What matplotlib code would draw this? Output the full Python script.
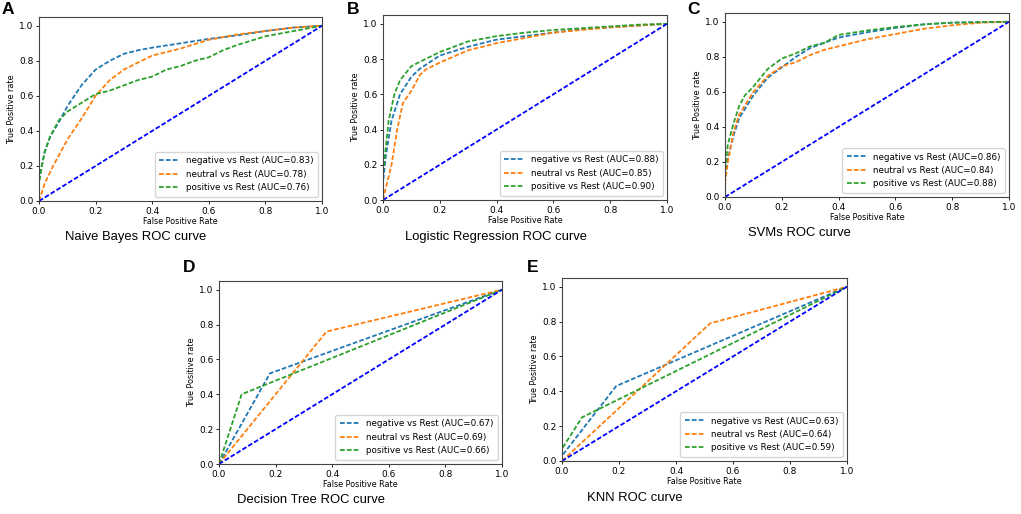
import numpy as np
import matplotlib.pyplot as plt

"""
ROC curves for five classifiers (values read off the reference figure)
"""
classes = ["negative", "neutral", "positive"]
colors = ["tab:blue", "tab:orange", "tab:green"]

### Naive Bayes
nb_auc = [0.83, 0.78, 0.76]
nb_fpr = [
    [0, 0, 0.01, 0.02, 0.04, 0.07, 0.10, 0.15, 0.20, 0.25, 0.30, 0.35, 0.40, 0.50, 0.60, 0.70, 0.80, 0.90, 1.0],
    [0, 0.02, 0.05, 0.10, 0.15, 0.20, 0.25, 0.30, 0.35, 0.40, 0.50, 0.60, 0.70, 0.80, 0.90, 1.0],
    [0, 0, 0.01, 0.02, 0.04, 0.07, 0.10, 0.15, 0.20, 0.25, 0.30, 0.35, 0.40, 0.45, 0.50, 0.55, 0.60, 0.65, 0.70, 0.80, 0.90, 1.0],
]
nb_tpr = [
    [0, 0.12, 0.20, 0.28, 0.37, 0.45, 0.54, 0.66, 0.75, 0.80, 0.84, 0.86, 0.875, 0.90, 0.925, 0.945, 0.97, 0.99, 1.0],
    [0, 0.10, 0.20, 0.35, 0.47, 0.60, 0.69, 0.75, 0.79, 0.83, 0.87, 0.92, 0.95, 0.97, 0.99, 1.0],
    [0, 0.10, 0.20, 0.28, 0.37, 0.46, 0.51, 0.56, 0.61, 0.63, 0.66, 0.69, 0.71, 0.75, 0.77, 0.80, 0.82, 0.86, 0.89, 0.94, 0.97, 1.0],
]

### Logistic Regression
lr_auc = [0.88, 0.85, 0.90]
lr_fpr = [
    [0, 0, 0.01, 0.03, 0.06, 0.10, 0.13, 0.20, 0.30, 0.40, 0.50, 0.60, 0.70, 0.80, 0.90, 1.0],
    [0, 0.01, 0.03, 0.05, 0.07, 0.10, 0.13, 0.15, 0.20, 0.30, 0.40, 0.50, 0.60, 0.70, 0.80, 0.90, 1.0],
    [0, 0, 0.01, 0.02, 0.04, 0.06, 0.10, 0.15, 0.20, 0.30, 0.40, 0.50, 0.60, 0.70, 0.80, 0.90, 1.0],
]
lr_tpr = [
    [0, 0.10, 0.25, 0.45, 0.60, 0.70, 0.745, 0.82, 0.87, 0.91, 0.93, 0.95, 0.97, 0.98, 0.99, 1.0],
    [0, 0.07, 0.20, 0.40, 0.55, 0.62, 0.71, 0.74, 0.78, 0.85, 0.89, 0.92, 0.95, 0.965, 0.98, 0.99, 1.0],
    [0, 0.15, 0.30, 0.45, 0.60, 0.68, 0.76, 0.80, 0.84, 0.90, 0.93, 0.95, 0.965, 0.975, 0.985, 0.995, 1.0],
]

### SVMs
svm_auc = [0.86, 0.84, 0.88]
svm_fpr = [
    [0, 0, 0.01, 0.03, 0.05, 0.10, 0.15, 0.20, 0.25, 0.30, 0.35, 0.40, 0.50, 0.60, 0.70, 0.80, 1.0],
    [0, 0, 0.01, 0.03, 0.05, 0.10, 0.15, 0.20, 0.25, 0.30, 0.35, 0.40, 0.50, 0.60, 0.70, 0.80, 0.90, 1.0],
    [0, 0, 0.01, 0.03, 0.05, 0.07, 0.10, 0.15, 0.20, 0.25, 0.30, 0.35, 0.40, 0.50, 0.60, 0.70, 0.80, 1.0],
]
svm_tpr = [
    [0, 0.10, 0.22, 0.35, 0.45, 0.58, 0.68, 0.74, 0.80, 0.85, 0.88, 0.91, 0.94, 0.965, 0.985, 0.995, 1.0],
    [0, 0.08, 0.20, 0.37, 0.47, 0.60, 0.69, 0.745, 0.77, 0.81, 0.84, 0.86, 0.90, 0.93, 0.96, 0.98, 0.995, 1.0],
    [0, 0.15, 0.30, 0.42, 0.52, 0.58, 0.63, 0.73, 0.79, 0.82, 0.86, 0.88, 0.925, 0.95, 0.97, 0.985, 0.995, 1.0],
]

### Decision Tree
dt_auc = [0.67, 0.69, 0.66]
dt_fpr = [[0, 0.18, 1.0], [0, 0.38, 1.0], [0, 0.08, 1.0]]
dt_tpr = [[0, 0.52, 1.0], [0, 0.76, 1.0], [0, 0.40, 1.0]]

### KNN
knn_auc = [0.63, 0.64, 0.59]
knn_fpr = [[0, 0, 0.19, 1.0], [0, 0.52, 1.0], [0, 0, 0.07, 1.0]]
knn_tpr = [[0, 0.03, 0.43, 1.0], [0, 0.79, 1.0], [0, 0.07, 0.25, 1.0]]

panels = [
    ("A", "Naive Bayes ROC curve", nb_fpr, nb_tpr, nb_auc),
    ("B", "Logistic Regression ROC curve", lr_fpr, lr_tpr, lr_auc),
    ("C", "SVMs ROC curve", svm_fpr, svm_tpr, svm_auc),
    ("D", "Decision Tree ROC curve", dt_fpr, dt_tpr, dt_auc),
    ("E", "KNN ROC curve", knn_fpr, knn_tpr, knn_auc),
]

### pixel layout of the reference: axes box (left, top, right, bottom), letter pos, title pos
W, H = 1021, 514
boxes = [(39, 17, 322, 201), (383, 15, 667, 200), (725, 13, 1009, 197),
         (219, 281, 502, 464), (562, 278, 847, 461)]
letters = [(2, 9), (347, 9), (687, 9), (183, 268), (527, 268)]
titles = [(65, 237), (405, 237), (748, 233), (237, 500), (587, 498)]

dash = (2.6, 1.2)   ### shorter dashes than the default '--'

fig = plt.figure(figsize=(W / 100, H / 100), dpi=100)

for i, (letter, title, fprs, tprs, aucs) in enumerate(panels):
    l, t, r, b = boxes[i]
    ax = fig.add_axes([l / W, 1 - b / H, (r - l) / W, (b - t) / H])
    for k in range(3):
        ax.plot(fprs[k], tprs[k], linestyle=(0, dash), color=colors[k], lw=1.3,
                label=f"{classes[k]} vs Rest (AUC={aucs[k]:.2f})")
    ax.plot([0, 1], [0, 1], color="b", linestyle=(0, dash), lw=1.3)
    ax.set_xlim(0, 1)
    ax.set_ylim(0, 1.05)
    ax.set_xticks(np.arange(0, 1.01, 0.2))
    ax.set_yticks(np.arange(0, 1.01, 0.2))
    ax.tick_params(labelsize=6.5, length=2.5, width=0.6, pad=1.5)
    ax.set_xlabel("False Positive Rate", fontsize=5.8, labelpad=1)
    ax.set_ylabel("True Positive rate", fontsize=5.8, labelpad=2)
    for s in ax.spines.values():
        s.set_linewidth(0.8)
        s.set_color("#444444")
    ax.legend(loc="lower right", fontsize=6.3, handlelength=2.2,
              borderpad=0.5, labelspacing=0.5, handletextpad=0.8)

    lx, ly = letters[i]
    fig.text(lx / W, 1 - ly / H, letter, fontsize=12.5, fontweight="bold",
             family="Liberation Sans", va="center", ha="left")
    tx, ty = titles[i]
    fig.text(tx / W, 1 - ty / H, title, fontsize=9.4, family="Liberation Sans",
             va="center", ha="left")

fig.savefig("out.png", dpi=100)
